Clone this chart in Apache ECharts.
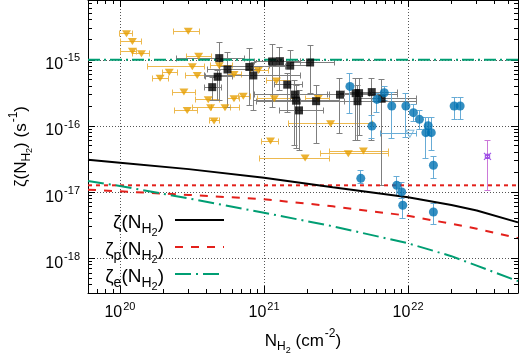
<!DOCTYPE html>
<html><head><meta charset="utf-8">
<script src="https://cdn.jsdelivr.net/npm/echarts@6/dist/echarts.min.js"></script>
<style>html,body{margin:0;padding:0;background:#fff}#c{width:520px;height:353px}</style>
</head><body><div id="c"></div>
<script>
// ---- model curves ----
const curveN    = [6e19, 1e20, 3e20, 1e21, 3e21, 1e22, 2e22, 3e22, 5.8e22];
const zetaTotal = [3.10e-17, 2.79e-17, 2.23e-17, 1.65e-17, 1.19e-17, 8.4e-18, 6.4e-18, 5.3e-18, 3.5e-18];
const zetaP     = [1.09e-17, 1.03e-17, 9.1e-18, 7.83e-18, 6.12e-18, 4.4e-18, 3.33e-18, 2.81e-18, 2.02e-18];
const zetaE     = [1.48e-17, 1.24e-17, 8.06e-18, 4.89e-18, 3.06e-18, 1.69e-18, 1.08e-18, 7.76e-19, 4.53e-19];
const refN      = [6e19, 5.8e22];
const refP      = [1.27e-17, 1.27e-17];
const refE      = [1e-15, 1e-15];

// ---- orange triangles (horizontal error bars) ----
const orangeN    = [1.11e20,1.22e20,1.22e20,1.41e20,2.98e20,3.18e20,2.20e20,1.90e20,3.44e20,2.78e20,2.93e20,3.52e20,4.89e20,4.10e20,4.26e20,5.36e20,4.50e20,6.19e20,7.18e20,6.19e20,9.13e20,1.22e21,1.18e21,1.11e21,2.38e21,2.90e21,3.85e21,4.90e21,1.93e21];
const orangeZeta = [2.47e-15,1.89e-15,1.35e-15,1.23e-15,2.70e-15,7.84e-16,6.50e-16,5.28e-16,5.80e-16,3.25e-16,1.72e-16,1.13e-15,8.12e-16,2.49e-16,1.89e-16,1.89e-16,1.19e-16,2.58e-16,2.82e-16,6.0e-16,6.9e-16,4.79e-16,2.58e-16,5.92e-17,2.61e-16,1.08e-16,3.82e-17,4.18e-17,3.28e-17];
const orangeNlo  = [1.0e20,1.01e20,1.01e20,1.23e20,2.37e20,1.55e20,1.96e20,1.69e20,2.87e20,2.32e20,2.41e20,2.90e20,4.22e20,3.32e20,3.21e20,4.33e20,4.17e20,5.62e20,6.6e20,5.62e20,8.0e20,1.04e21,9.08e20,9.64e20,1.93e21,1.47e21,2.45e21,2.87e21,9.37e20];
const orangeNhi  = [1.23e20,1.41e20,1.31e20,1.60e20,3.59e20,3.89e20,2.49e20,2.16e20,3.89e20,3.37e20,3.43e20,4.33e20,6.0e20,4.89e20,5.81e20,6.81e20,4.89e20,6.81e20,8.0e20,7.03e20,1.07e21,1.52e21,1.64e21,1.26e21,2.87e21,5.71e21,7.26e21,7.26e21,2.87e21];

// ---- black squares ----
const blackN    = [4.37e20,4.77e20,4.89e20,5.58e20,7.91e20,8.43e20,1.14e21,1.29e21,1.52e21,2.09e21,1.45e21,1.64e21,1.67e21,1.75e21,2.30e21,3.37e21,4.33e21,4.57e21,4.46e21,5.60e21,6.56e21];
const blackZeta = [3.86e-16,5.54e-16,1.06e-15,7.14e-16,7.79e-16,5.80e-16,9.43e-16,9.53e-16,8.15e-16,9.1e-16,4.21e-16,2.98e-16,2.41e-16,1.72e-16,2.37e-16,2.97e-16,3.13e-16,3.13e-16,2.37e-16,3.25e-16,2.58e-16];
const blackZhi  = [5.46e-16,6.90e-16,1.84e-15,1.28e-15,1.48e-15,9.1e-16,1.70e-15,1.55e-15,1.38e-15,1.64e-15,6.21e-16,4.88e-16,4.10e-16,3.44e-16,4.10e-16,5.22e-16,5.22e-16,5.22e-16,4.10e-16,5.22e-16,5.05e-16];
const blackZlo  = [2.43e-16,2.43e-16,2.43e-16,1.89e-16,2.05e-16,1.72e-16,1.93e-16,3.44e-16,2.43e-16,3.10e-16,1.62e-16,5.1e-17,4.59e-17,4.29e-17,5.41e-17,7.65e-17,6.07e-17,7.21e-17,6.07e-17,6.07e-17,1.27e-17];
const blackNlo  = [3.89e20,3.95e20,2.47e20,4.08e20,4.94e20,3.89e20,8.66e20,1.07e21,1.10e21,1.52e21,1.19e21,8.66e20,8.39e20,1.29e21,1.78e21,2.78e21,3.37e21,3.65e21,8.94e20,3.95e21,4.64e21];
const blackNhi  = [5.11e20,6.0e20,7.38e20,9.37e20,1.40e21,1.78e21,1.78e21,1.78e21,2.09e21,3.11e21,1.84e21,2.87e21,3.37e21,2.57e21,3.65e21,8.39e21,5.44e21,5.62e21,1.15e22,8.39e21,1.15e22];

// ---- blue circles ----
const blueN    = [3.95e21,5.62e21,6.84e21,6.08e21,7.71e21,9.66e21,1.09e22,1.20e22,1.38e22,1.33e22,1.45e22,1.50e22,2.09e22,2.30e22,8.35e21,9.04e21,9.19e21,1.50e22,4.70e21];
const blueZeta = [3.96e-16,9.97e-17,3.18e-16,2.52e-16,2.0e-16,2.0e-16,1.59e-16,1.26e-16,1.01e-16,7.93e-17,7.93e-17,2.55e-17,2.0e-16,2.0e-16,1.27e-17,1.01e-17,6.34e-18,5.02e-18,1.62e-17];
const blueZhi  = [6.15e-16,1.44e-16,3.96e-16,3.10e-16,3.25e-16,3.10e-16,2.12e-16,1.72e-16,1.35e-16,1.36e-16,1.36e-16,3.44e-17,2.73e-16,2.73e-16,1.74e-17,1.38e-17,8.47e-18,6.73e-18,2.14e-17];
const blueZlo  = [1.57e-16,6.50e-17,2.43e-16,1.62e-16,6.43e-17,6.8e-17,1.15e-16,8.8e-17,7.21e-17,3.21e-17,4.29e-17,1.60e-17,1.25e-16,1.25e-16,8.98e-18,8.0e-18,4.0e-18,3.28e-18,1.35e-17];

// ---- single points ----
const openN = [1.03e22], openZeta = [7.65e-17], openNlo = [6.39e21], openNhi = [1.15e22];
const purpleN = [3.56e22], purpleZeta = [3.48e-17], purpleZlo = [1.07e-17], purpleZhi = [6.07e-17];

// ---- axes ----
const X_MIN = 6e19, X_MAX = 5.8e22, Y_MIN = 3e-19, Y_MAX = 8e-15;
const xMajor = [20, 21, 22];
const yMajor = [-18, -17, -16, -15];

const minorX = [], minorY = [];
for (let k = 19; k <= 22; k++) for (let m = 2; m <= 9; m++) { const v = m * Math.pow(10, k); if (v > X_MIN * 1.001 && v < X_MAX * 0.999) minorX.push(v); }
for (let k = -19; k <= -15; k++) for (let m = 2; m <= 9; m++) { const v = m * Math.pow(10, k); if (v > Y_MIN * 1.001 && v < Y_MAX * 0.999) minorY.push(v); }

const FONT = 'Liberation Sans, Arial, Helvetica, sans-serif';
const crisp = v => Math.round(v - 0.5) + 0.5;

function expLabel(v, list) {
  const e = Math.log10(v), r = Math.round(e);
  if (Math.abs(e - r) > 1e-6 || list.indexOf(r) < 0) return '';
  return '{b|10}{sup|' + r + '}';
}
const tickRich = {
  b:   {fontSize: 16, lineHeight: 18, padding: [6, 0, 0, 0], verticalAlign: 'top', fontFamily: FONT, color: '#000'},
  sup: {fontSize: 11, lineHeight: 12, padding: [2, 0, 0, 1], verticalAlign: 'top', fontFamily: FONT, color: '#000'}
};
const nameRich = {
  m:   {fontSize: 17, lineHeight: 18, padding: [7, 0, 0, 0], verticalAlign: 'top', fontFamily: FONT, color: '#000'},
  s:   {fontSize: 12, lineHeight: 12, padding: [15, 0, 0, 0], verticalAlign: 'top', fontFamily: FONT, color: '#000'},
  ss:  {fontSize: 9,  lineHeight: 9,  padding: [20, 0, 0, 0], verticalAlign: 'top', fontFamily: FONT, color: '#000'},
  sup: {fontSize: 12, lineHeight: 12, padding: [2, 0, 0, 1], verticalAlign: 'top', fontFamily: FONT, color: '#000'}
};
const legRich = {
  m:   {fontSize: 19, lineHeight: 20, padding: [3, 0, 0, 0], verticalAlign: 'top', fontFamily: FONT, color: '#000'},
  s:   {fontSize: 14, lineHeight: 14, padding: [12, 0, 0, 0], verticalAlign: 'top', fontFamily: FONT, color: '#000'},
  ss:  {fontSize: 11, lineHeight: 10, padding: [17, 0, 0, 0], verticalAlign: 'top', fontFamily: FONT, color: '#000'},
  e:   {fontSize: 19, lineHeight: 20, padding: [3, 6, 0, 0], verticalAlign: 'top', fontFamily: FONT, color: '#000'}
};
const legendNames = {
  tot: '{m|ζ(N}{s|H}{ss|2}{e|)}',
  p:   '{m|ζ}{s|p}{m|(N}{s|H}{ss|2}{e|)}',
  e:   '{m|ζ}{s|e}{m|(N}{s|H}{ss|2}{e|)}'
};

function baseAxis(pos) {
  return {
    type: 'log', logBase: 10, position: pos,
    axisLine: {show: true, onZero: false, lineStyle: {color: '#000', width: 1}},
    axisTick: {show: true, inside: true, length: 7, lineStyle: {color: '#000', width: 1}},
    splitLine: {show: false},
    axisLabel: {show: false}
  };
}
const xA0 = Object.assign(baseAxis('bottom'), {
  min: X_MIN, max: X_MAX,
  splitLine: {show: true, lineStyle: {color: '#555', type: [1, 2], width: 1}},
  axisLabel: {show: true, margin: 6, showMinLabel: false, showMaxLabel: false,
    formatter: v => expLabel(v, xMajor), rich: tickRich},
  name: '{m|N}{s|H}{ss|2}{m| (cm}{sup|-2}{m|)}', nameLocation: 'middle', nameGap: 26,
  nameTextStyle: {rich: nameRich}
});
const xA1 = Object.assign(baseAxis('top'), {min: X_MIN, max: X_MAX});
const yA0 = Object.assign(baseAxis('left'), {
  min: Y_MIN, max: Y_MAX,
  splitLine: {show: true, lineStyle: {color: '#555', type: [1, 2], width: 1}},
  axisLabel: {show: true, margin: 8, showMinLabel: false, showMaxLabel: false,
    formatter: v => expLabel(v, yMajor), rich: tickRich},
  name: '{m|ζ(N}{s|H}{ss|2}{m|) (s}{sup|-1}{m|)}', nameLocation: 'middle', nameGap: 53, nameRotate: 90,
  nameTextStyle: {rich: nameRich}
});
const yA1 = Object.assign(baseAxis('right'), {min: Y_MIN, max: Y_MAX});

function errSeries(name, color, rows, capH, capV, z) {
  return {
    type: 'custom', name: name, xAxisIndex: 0, yAxisIndex: 0, z: z, clip: true, silent: true,
    dimensions: ['x', 'y', 'xlo', 'xhi', 'ylo', 'yhi'],
    encode: {x: 0, y: 1},
    data: rows,
    renderItem: function (params, api) {
      const x = api.value(0), y = api.value(1);
      const xlo = api.value(2), xhi = api.value(3), ylo = api.value(4), yhi = api.value(5);
      const ch = [];
      const st = {stroke: color, lineWidth: 1, fill: null};
      if (isFinite(ylo) && isFinite(yhi) && ylo > 0) {
        const a = api.coord([x, ylo]), b = api.coord([x, yhi]);
        const cx = crisp(a[0]);
        ch.push({type: 'line', shape: {x1: cx, y1: a[1], x2: cx, y2: b[1]}, style: st});
        ch.push({type: 'line', shape: {x1: cx - capV, y1: crisp(a[1]), x2: cx + capV, y2: crisp(a[1])}, style: st});
        ch.push({type: 'line', shape: {x1: cx - capV, y1: crisp(b[1]), x2: cx + capV, y2: crisp(b[1])}, style: st});
      }
      if (isFinite(xlo) && isFinite(xhi) && xlo > 0) {
        const a = api.coord([xlo, y]), b = api.coord([xhi, y]);
        const cy = crisp(a[1]);
        ch.push({type: 'line', shape: {x1: a[0], y1: cy, x2: b[0], y2: cy}, style: st});
        ch.push({type: 'line', shape: {x1: crisp(a[0]), y1: cy - capH, x2: crisp(a[0]), y2: cy + capH}, style: st});
        ch.push({type: 'line', shape: {x1: crisp(b[0]), y1: cy - capH, x2: crisp(b[0]), y2: cy + capH}, style: st});
      }
      return {type: 'group', children: ch};
    }
  };
}

const orangeRows = orangeN.map((n, i) => [n, orangeZeta[i], orangeNlo[i], orangeNhi[i], null, null]);
const blackRows  = blackN.map((n, i) => [n, blackZeta[i], blackNlo[i], blackNhi[i], blackZlo[i], blackZhi[i]]);
const blueRows   = blueN.map((n, i) => [n, blueZeta[i], null, null, blueZlo[i], blueZhi[i]]);
const openRows   = openN.map((n, i) => [n, openZeta[i], openNlo[i], openNhi[i], null, null]);
const purpleRows = purpleN.map((n, i) => [n, purpleZeta[i], null, null, purpleZlo[i], purpleZhi[i]]);

const zip = (a, b) => a.map((v, i) => [v, b[i]]);

const minorTickSeries = {
  type: 'custom', xAxisIndex: 0, yAxisIndex: 0, silent: true, clip: false, z: 20,
  encode: {x: 0, y: 1},
  data: minorX.map(v => [v, 1e-17, 0]).concat(minorY.map(v => [1e21, v, 1])),
  renderItem: function (params, api) {
    const st = {stroke: '#000', lineWidth: 1};
    if (api.value(2) === 0) {
      const v = api.value(0);
      const b = api.coord([v, Y_MIN]), t = api.coord([v, Y_MAX]);
      const cx = crisp(b[0]);
      return {type: 'group', children: [
        {type: 'line', shape: {x1: cx, y1: b[1], x2: cx, y2: b[1] - 4}, style: st},
        {type: 'line', shape: {x1: cx, y1: t[1], x2: cx, y2: t[1] + 4}, style: st}]};
    } else {
      const v = api.value(1);
      const l = api.coord([X_MIN, v]), r = api.coord([X_MAX, v]);
      const cy = crisp(l[1]);
      return {type: 'group', children: [
        {type: 'line', shape: {x1: l[0], y1: cy, x2: l[0] + 4, y2: cy}, style: st},
        {type: 'line', shape: {x1: r[0], y1: cy, x2: r[0] - 4, y2: cy}, style: st}]};
    }
  }
};

const RED = '#e3201b', GREEN = '#009e73', ORANGE = '#e69f00', BLUE = '#0072b2';
const NOSYM = 'rgba(0,0,0,0)';

const chart = echarts.init(document.getElementById('c'), null, {renderer: 'canvas'});
chart.setOption({
  animation: false,
  backgroundColor: '#fff',
  grid: {left: 88, right: 2, top: 0, bottom: 60, containLabel: false, outerBoundsMode: 'none'},
  xAxis: [xA0, xA1],
  yAxis: [yA0, yA1],
  legend: {
    data: ['tot', 'p', 'e'], orient: 'vertical', align: 'right', right: 290, top: 205,
    itemWidth: 49, itemHeight: 14, itemGap: -1, selectedMode: false,
    itemStyle: {opacity: 0},
    formatter: n => legendNames[n],
    textStyle: {rich: legRich, fontFamily: FONT, fontSize: 19, color: '#000'}
  },
  series: [
    minorTickSeries,
    errSeries('oerr', '#edb94f', orangeRows, 3, 3, 3),
    errSeries('kerr', '#7f7f7f', blackRows, 3, 3, 3),
    errSeries('berr', '#68acd6', blueRows, 3, 3, 3),
    errSeries('openerr', '#68acd6', openRows, 3, 3, 3),
    errSeries('perr', '#cc79d9', purpleRows, 3, 3, 3),
    {type: 'line', name: 'refE', data: zip(refN, refE), symbol: 'none', z: 4, silent: true,
     lineStyle: {color: GREEN, width: 2, type: [12, 4, 2, 4]}},
    {type: 'line', name: 'refP', data: zip(refN, refP), symbol: 'none', z: 4, silent: true,
     lineStyle: {color: RED, width: 2, type: [4, 4]}},
    {type: 'line', name: 'tot', data: zip(curveN, zetaTotal), symbol: 'none', z: 5, silent: true,
     lineStyle: {color: '#000', width: 2}, itemStyle: {color: NOSYM}},
    {type: 'line', name: 'p', data: zip(curveN, zetaP), symbol: 'none', z: 5, silent: true,
     lineStyle: {color: RED, width: 2, type: [8, 8]}, itemStyle: {color: NOSYM}},
    {type: 'line', name: 'e', data: zip(curveN, zetaE), symbol: 'none', z: 5, silent: true,
     lineStyle: {color: GREEN, width: 2, type: [16, 5, 2, 5]}, itemStyle: {color: NOSYM}},
    {type: 'scatter', name: 'orange', data: zip(orangeN, orangeZeta), symbol: 'triangle', symbolRotate: 180,
     symbolSize: [9, 7], itemStyle: {color: ORANGE}, z: 6, silent: true},
    {type: 'scatter', name: 'black', data: zip(blackN, blackZeta), symbol: 'rect', symbolSize: 8,
     itemStyle: {color: '#000'}, z: 7, silent: true},
    {type: 'scatter', name: 'blue', data: zip(blueN, blueZeta), symbol: 'circle', symbolSize: 9,
     itemStyle: {color: BLUE}, z: 7, silent: true},
    {type: 'scatter', name: 'open', data: zip(openN, openZeta), symbol: 'triangle', symbolRotate: 180, symbolSize: [8, 7],
     itemStyle: {color: NOSYM, borderColor: '#68acd6', borderWidth: 1}, z: 7, silent: true},
    {type: 'scatter', name: 'purple', data: zip(purpleN, purpleZeta), symbol: 'path://M0,0L10,10M10,0L0,10M2,2L8,2L8,8L2,8Z', symbolSize: 7,
     itemStyle: {color: NOSYM, borderColor: '#8a2be2', borderWidth: 1.2}, z: 7, silent: true}
  ]
});
</script></body></html>
